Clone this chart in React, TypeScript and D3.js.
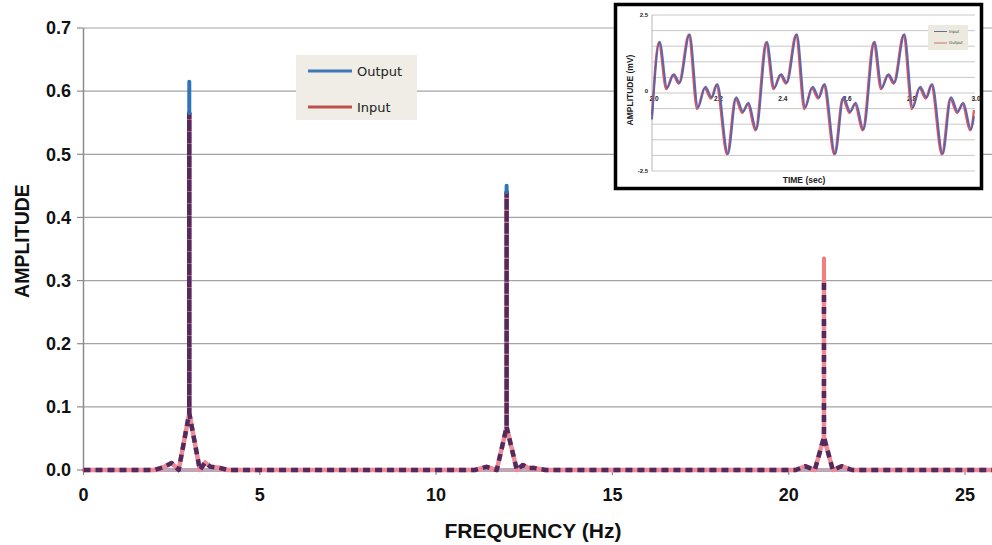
import React from 'react';
import * as d3 from 'd3';

// ---------- main chart data ----------
const freqTicks = [0, 5, 10, 15, 20, 25];
const ampTicks = [0, 0.1, 0.2, 0.3, 0.4, 0.5, 0.6, 0.7];
const peakFreq = [3, 12, 21];
const outputPeak = [0.615, 0.45, 0.3];
const inputPeak = [0.565, 0.44, 0.335];
const broadFreq = [0, 2.0, 2.25, 2.5, 2.7, 3.0, 3.3, 3.45, 3.6, 3.8, 4.1, 11.1, 11.43, 11.72, 12.0, 12.29, 12.46, 12.62, 12.8, 13.1, 20.2, 20.46, 20.74, 21.0, 21.25, 21.5, 21.8, 26];
const broadAmp = [0, 0, 0.004, 0.011, 0, 0.09, 0, 0.012, 0.005, 0.004, 0, 0, 0.005, 0, 0.068, 0, 0.008, 0.003, 0.003, 0, 0, 0.006, 0, 0.052, 0, 0.006, 0, 0];
const legendLabels = ['Output', 'Input'];

// ---------- inset data ----------
const insetTimeTicks = [2.0, 2.2, 2.4, 2.6, 2.8, 3.0];
const insetAmpLabels = [2.5, 0, -2.5];
const insetGrid = [-2.5, -2, -1.5, -1, -0.5, 0, 0.5, 1, 1.5, 2, 2.5];
const outputTime = [
  2.000, 2.021, 2.044, 2.065, 2.083, 2.114, 2.140, 2.163, 2.183, 2.200, 2.233, 2.259, 2.280, 2.297, 2.321,
  2.354, 2.377, 2.398, 2.416, 2.447, 2.473, 2.496, 2.516, 2.533, 2.566, 2.592, 2.613, 2.630, 2.654,
  2.688, 2.711, 2.732, 2.750, 2.781, 2.807, 2.830, 2.850, 2.867, 2.900, 2.926, 2.947, 2.964, 2.988, 3.000,
];
const outputWave = [
  -0.70, 1.62, 0.12, 0.58, 0.30, 1.86, -0.52, 0.16, -0.18, 0.26, -1.97, -0.18, -0.64, -0.35, -1.20,
  1.62, 0.12, 0.58, 0.30, 1.86, -0.52, 0.16, -0.18, 0.26, -1.97, -0.18, -0.64, -0.35, -1.20,
  1.62, 0.12, 0.58, 0.30, 1.86, -0.52, 0.16, -0.18, 0.26, -1.97, -0.18, -0.64, -0.35, -1.20, -0.55,
];
const inputTime = [
  2.000, 2.024, 2.047, 2.068, 2.086, 2.117, 2.143, 2.166, 2.186, 2.203, 2.236, 2.262, 2.283, 2.300, 2.324,
  2.357, 2.380, 2.401, 2.419, 2.450, 2.476, 2.499, 2.519, 2.536, 2.569, 2.595, 2.616, 2.633, 2.657,
  2.691, 2.714, 2.735, 2.753, 2.784, 2.810, 2.833, 2.853, 2.870, 2.903, 2.929, 2.950, 2.967, 2.991, 3.000,
];
const inputWave = [
  -0.85, 1.64, 0.17, 0.60, 0.33, 1.88, -0.46, 0.20, -0.14, 0.29, -1.95, -0.14, -0.60, -0.31, -1.17,
  1.64, 0.17, 0.60, 0.33, 1.88, -0.46, 0.20, -0.14, 0.29, -1.95, -0.14, -0.60, -0.31, -1.17,
  1.64, 0.17, 0.60, 0.33, 1.88, -0.46, 0.20, -0.14, 0.29, -1.95, -0.14, -0.60, -0.31, -1.17, -0.75,
];
const insetLegend = ['Input', 'Output'];

const W = 992;
const H = 545;
const BOLD = "'Liberation Sans', Arial, sans-serif";

export default function App() {
  const x = d3.scaleLinear().domain([0, 26]).range([83.5, 83.5 + 26 * 35.26]);
  const y = d3.scaleLinear().domain([0, 0.7]).range([470, 28]);
  const line = d3.line<[number, number]>().x(d => x(d[0])).y(d => y(d[1]));

  // spike series: zero floor plus vertical peak rising from the broad apex
  const apexAt = (f: number) => broadAmp[broadFreq.indexOf(f)];
  const spikePath = (peaks: number[]) =>
    [
      line([[0, 0], [26, 0]]),
      ...peakFreq.map((f, i) => line([[f, apexAt(f)], [f, peaks[i]]])),
    ].join(' ');

  const combined: [number, number][] = [];
  broadFreq.forEach((f, i) => {
    combined.push([f, broadAmp[i]]);
    const k = peakFreq.indexOf(f);
    if (k >= 0) {
      combined.push([f, Math.min(inputPeak[k], outputPeak[k])], [f, broadAmp[i]]);
    }
  });

  // inset scales
  const tx = d3.scaleLinear().domain([2.0, 3.0]).range([652, 974]);
  const ty = d3.scaleLinear().domain([-2.5, 2.5]).range([171, 15]);
  const wave = d3.line<[number, number]>().x(d => tx(d[0])).y(d => ty(d[1])).curve(d3.curveMonotoneX);
  const outPts = outputTime.map((t, i) => [t, outputWave[i]] as [number, number]);
  const inPts = inputTime.map((t, i) => [t, inputWave[i]] as [number, number]);

  const fmt = d3.format('.1f');

  return (
    <svg width={W} height={H} style={{ position: 'absolute', left: 0, top: 0, background: '#fff' }}>
      <rect x={0} y={0} width={W} height={H} fill="#fff" />
      {/* grid */}
      {ampTicks.map(t => (
        <g key={'g' + t}>
          {t > 0 && <line x1={83.5} x2={W} y1={y(t)} y2={y(t)} stroke="#a3a3a3" strokeWidth={1.2} />}
          <line x1={77} x2={83.5} y1={y(t)} y2={y(t)} stroke="#8c8c8c" strokeWidth={1.2} />
          <text x={71} y={y(t)} dy="0.35em" textAnchor="end" fontFamily={BOLD} fontWeight="bold" fontSize={18} fill="#111">
            {fmt(t)}
          </text>
        </g>
      ))}
      <line x1={83.5} x2={83.5} y1={y(0.7)} y2={y(0)} stroke="#8c8c8c" strokeWidth={1.5} />
      <line x1={83.5} x2={W} y1={y(0)} y2={y(0)} stroke="#8c8c8c" strokeWidth={1.2} />
      {freqTicks.map(t => (
        <g key={'x' + t}>
          <line x1={x(t)} x2={x(t)} y1={470} y2={475} stroke="#8c8c8c" strokeWidth={1.2} />
          <text x={x(t)} y={495} dy="0.35em" textAnchor="middle" fontFamily={BOLD} fontWeight="bold" fontSize={18} fill="#111">
            {t}
          </text>
        </g>
      ))}
      <text x={533} y={531} dy="0.35em" textAnchor="middle" fontFamily={BOLD} fontWeight="bold" fontSize={21} fill="#111">
        FREQUENCY (Hz)
      </text>
      <text transform="translate(22,241) rotate(-90)" dy="0.35em" textAnchor="middle" fontFamily={BOLD} fontWeight="bold" fontSize={19.5} fill="#111">
        AMPLITUDE
      </text>

      {/* series */}
      <path d={spikePath(inputPeak)} fill="none" stroke="#ea6d6e" strokeWidth={3.5} strokeLinecap="round" />
      <path d={spikePath(outputPeak)} fill="none" stroke="#8dbbe0" strokeWidth={2} />
      <path d={line(combined) || ''} fill="none" stroke="#ef8a97" strokeWidth={4.5} strokeLinejoin="round" />
      <path d={line(combined) || ''} fill="none" stroke="#522a5e" strokeWidth={4.5} strokeLinejoin="round" strokeDasharray="7 5" />
      {/* visible tops of the taller peak of each pair */}
      {peakFreq.map((f, i) =>
        outputPeak[i] > inputPeak[i] ? (
          <line key={'bt' + f} x1={x(f)} x2={x(f)} y1={y(outputPeak[i])} y2={y(inputPeak[i])} stroke="#2f73b8" strokeWidth={4} strokeLinecap="round" />
        ) : (
          <line key={'rt' + f} x1={x(f)} x2={x(f)} y1={y(inputPeak[i])} y2={y(outputPeak[i])} stroke="#f0807f" strokeWidth={4} strokeLinecap="round" />
        )
      )}

      {/* main legend */}
      <rect x={296} y={55} width={121} height={65} fill="#efede5" />
      {legendLabels.map((lab, i) => (
        <g key={lab}>
          <line x1={308} x2={352} y1={71 + i * 36} y2={71 + i * 36} stroke={i === 0 ? '#3f78b8' : '#c0504d'} strokeWidth={3} />
          <text x={357} y={71 + i * 36} dy="0.35em" fontFamily="'DejaVu Sans', Verdana, sans-serif" fontSize={13} fill="#222">
            {lab}
          </text>
        </g>
      ))}

      {/* inset */}
      <rect x={615.5} y={4.5} width={366} height={184} fill="#fff" stroke="#000" strokeWidth={3.5} />
      {insetGrid.map(g => (
        <line key={'ig' + g} x1={652} x2={975} y1={ty(g)} y2={ty(g)} stroke="#c2c2c2" strokeWidth={0.9} />
      ))}
      <line x1={652} x2={652} y1={ty(2.5)} y2={ty(-2.5)} stroke="#b0b0b0" strokeWidth={0.9} />
      {insetAmpLabels.map(a => (
        <text key={'ia' + a} x={648} y={ty(a) - (a === 0 ? 2 : 0)} dy="0.35em" textAnchor="end" fontFamily={BOLD} fontWeight="bold" fontSize={6} fill="#222">
          {a}
        </text>
      ))}
      {insetTimeTicks.map(t => (
        <text key={'it' + t} x={tx(t) + 2} y={99} dy="0.35em" textAnchor="middle" fontFamily={BOLD} fontWeight="bold" fontSize={6.5} fill="#222">
          {fmt(t)}
        </text>
      ))}
      <text x={804} y={180} dy="0.35em" textAnchor="middle" fontFamily={BOLD} fontWeight="bold" fontSize={8.5} fill="#222">
        TIME (sec)
      </text>
      <text transform="translate(630,90) rotate(-90)" dy="0.35em" textAnchor="middle" fontFamily={BOLD} fontWeight="bold" fontSize={8.5} fill="#222">
        AMPLITUDE (mV)
      </text>
      <path d={wave(outPts) || ''} fill="none" stroke="#e0565e" strokeWidth={2.2} />
      <path d={wave(inPts) || ''} fill="none" stroke="#5062ad" strokeWidth={2} opacity={0.92} />
      <rect x={928} y={25} width={40} height={25} fill="#ece9df" />
      {insetLegend.map((lab, i) => (
        <g key={'il' + lab}>
          <line x1={934} x2={947} y1={31.5 + i * 11.5} y2={31.5 + i * 11.5} stroke={i === 0 ? '#3c4f92' : '#c0504d'} strokeWidth={0.8} />
          <text x={949} y={31.5 + i * 11.5} dy="0.35em" fontFamily="'DejaVu Sans', sans-serif" fontSize={4} fill="#444">
            {lab}
          </text>
        </g>
      ))}
    </svg>
  );
}
